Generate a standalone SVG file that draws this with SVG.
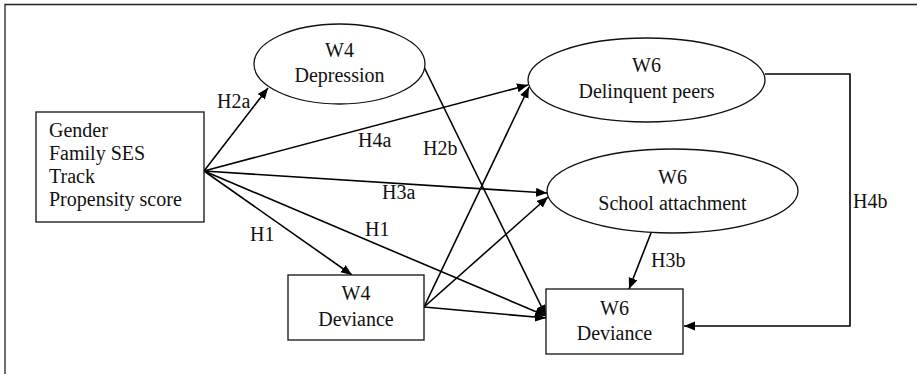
<svg xmlns="http://www.w3.org/2000/svg" width="917" height="374" viewBox="0 0 917 374">
<style>
text{font-family:"Liberation Serif","Times New Roman",serif;font-size:20px;fill:#111}
.c{text-anchor:middle}
.node{fill:#fff;stroke:#111;stroke-width:1.3}
.edge{stroke:#000;stroke-width:1.6;fill:none}
.arr{marker-end:url(#ah)}
.frame{stroke:#222;stroke-width:1.3;fill:none}
</style>
<defs>
<marker id="ah" markerUnits="userSpaceOnUse" markerWidth="12" markerHeight="10" refX="11" refY="4.5" orient="auto">
<path d="M0,0 L11,4.5 L0,9 z" fill="#000"/>
</marker>
</defs>
<rect width="917" height="374" fill="#fff"/>
<g id="frame">
<path class="frame" d="M5,374 L5,4.5 L917,4.5"/>
</g>
<g id="connectors">
<line class="edge arr" x1="204" y1="171" x2="268" y2="88"/>
<line class="edge arr" x1="204" y1="171" x2="528" y2="85"/>
<line class="edge arr" x1="204" y1="171" x2="547" y2="193"/>
<line class="edge arr" x1="204" y1="171" x2="352" y2="275"/>
<line class="edge arr" x1="204" y1="171" x2="546" y2="316"/>
<line class="edge arr" x1="424" y1="67" x2="546" y2="316"/>
<line class="edge arr" x1="424" y1="307" x2="529" y2="87"/>
<line class="edge arr" x1="424" y1="307" x2="548" y2="197"/>
<line class="edge arr" x1="424" y1="307" x2="546" y2="318"/>
<line class="edge arr" x1="651" y1="233" x2="629" y2="289"/>
<path class="edge arr" d="M765,74 L850,74 L850,326 L684,326"/>
<text x="217" y="108">H2a</text>
<text x="358" y="147">H4a</text>
<text x="423" y="155">H2b</text>
<text x="382" y="199">H3a</text>
<text x="250" y="241">H1</text>
<text x="365" y="236">H1</text>
<text x="651" y="267">H3b</text>
<text x="853" y="208">H4b</text>
</g>
<g id="covariates">
<rect class="node" x="36" y="112" width="168" height="110"/>
<text x="49" y="137">Gender</text>
<text x="49" y="160">Family SES</text>
<text x="49" y="183">Track</text>
<text x="49" y="206">Propensity score</text>
</g>
<g id="w4-depression">
<ellipse class="node" cx="339.5" cy="64" rx="85.5" ry="40"/>
<text class="c" x="339.5" y="57">W4</text>
<text class="c" x="339.5" y="82">Depression</text>
</g>
<g id="w6-delinquent-peers">
<ellipse class="node" cx="646.5" cy="80" rx="118.5" ry="42"/>
<text class="c" x="646.5" y="72">W6</text>
<text class="c" x="646.5" y="98">Delinquent peers</text>
</g>
<g id="w6-school-attachment">
<ellipse class="node" cx="672.5" cy="191" rx="125.5" ry="42"/>
<text class="c" x="672.5" y="184">W6</text>
<text class="c" x="672.5" y="210">School attachment</text>
</g>
<g id="w4-deviance">
<rect class="node" x="288" y="275" width="136" height="65"/>
<text class="c" x="356" y="300">W4</text>
<text class="c" x="356" y="326">Deviance</text>
</g>
<g id="w6-deviance">
<rect class="node" x="546" y="289" width="137" height="65"/>
<text class="c" x="614.5" y="315">W6</text>
<text class="c" x="614.5" y="340">Deviance</text>
</g>
</svg>
